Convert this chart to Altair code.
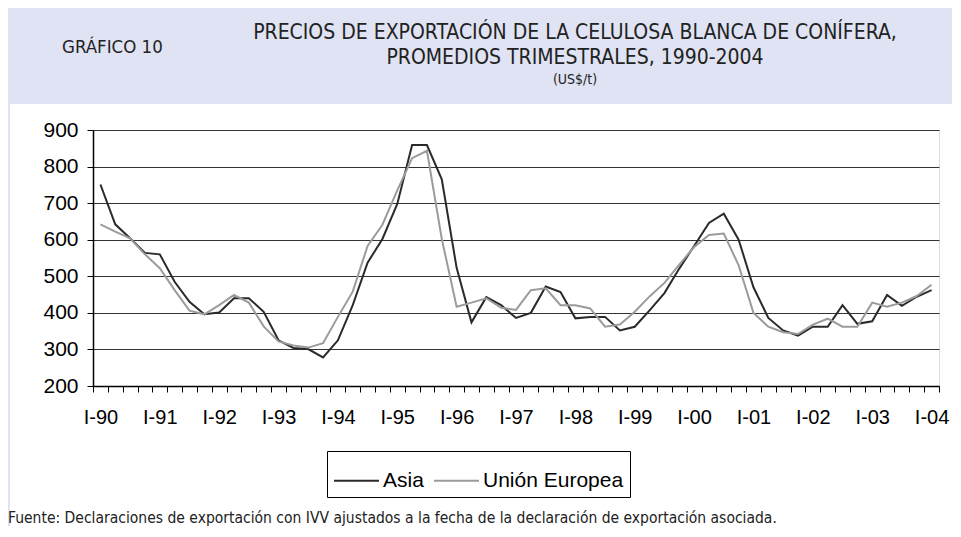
import altair as alt
import pandas as pd

years = ["90", "91", "92", "93", "94", "95", "96", "97", "98", "99", "00", "01", "02", "03", "04"]
roman = ["I", "II", "III", "IV"]
quarters = [f"{r}-{y}" for y in years for r in roman][:57]
tick_labels = [f"I-{y}" for y in years]

asia = [751, 642, 604, 564, 560, 485, 430, 396, 401, 440, 440, 403, 325, 304, 301,
        278, 325, 421, 537, 602, 698, 859, 859, 765, 523, 374, 443, 421, 386,
        400, 472, 457, 385, 389, 389, 352, 362, 407, 454, 521, 583, 646, 671,
        600, 470, 386, 352, 338, 362, 362, 421, 370, 377, 449, 419, 444, 462]
ue = [642, 622, 604, 560, 522, 462, 406, 396, 421, 449, 428, 363, 322, 311, 305,
      317, 389, 458, 583, 641, 735, 823, 843, 602, 417, 428, 440, 414, 408,
      462, 467, 421, 421, 412, 362, 368, 403, 445, 482, 532, 580, 613, 617,
      530, 400, 362, 347, 342, 368, 384, 362, 362, 428, 417, 428, 446, 477]
series = ["Asia", "Unión Europea"]
colors = ["#2a2a2a", "#9b9b9b"]

header = ["GRÁFICO 10"]
title_lines = ["PRECIOS DE EXPORTACIÓN DE LA CELULOSA BLANCA DE CONÍFERA,",
               "PROMEDIOS TRIMESTRALES, 1990-2004"]
unit_line = ["(US$/t)"]
footer = ["Fuente: Declaraciones de exportación con IVV ajustados a la fecha de la declaración de exportación asociada."]

rows = []
for i, q in enumerate(quarters):
    rows.append({"trimestre": q, "pos": i + 0.5, "serie": series[0], "precio": asia[i]})
    rows.append({"trimestre": q, "pos": i + 0.5, "serie": series[1], "precio": ue[i]})
df = pd.DataFrame(rows)

n = len(quarters)
W, H = 846, 256
PL, PT = 85, 122
narrow = "DejaVu Sans Condensed, Liberation Sans Narrow, sans-serif"

label_arr = "[" + ",".join(f"'{t}'" for t in tick_labels) + "]"
label_expr = f"(datum.value % 4 === 0 && datum.value < {n}) ? {label_arr}[datum.value / 4] : ''"

band = alt.Chart(pd.DataFrame({"a": [0]})).mark_rect(color="#dfe3f3").encode(
    x=alt.value(-PL), x2=alt.value(W + 20), y=alt.value(-PT), y2=alt.value(-26)
)
stripe = alt.Chart(pd.DataFrame({"a": [0]})).mark_rect(color="#dfe3f3").encode(
    x=alt.value(-PL), x2=alt.value(-PL + 2), y=alt.value(-30), y2=alt.value(H + 140)
)
head = alt.Chart(pd.DataFrame({"t": header})).mark_text(
    font=narrow, fontSize=18.5, align="left", baseline="middle", color="#222222"
).encode(x=alt.value(-31), y=alt.value(-83), text="t:N")
title1 = alt.Chart(pd.DataFrame({"t": title_lines[:1]})).mark_text(
    font=narrow, fontSize=21, align="center", baseline="middle", color="#222222"
).encode(x=alt.value(482), y=alt.value(-97), text="t:N")
title2 = alt.Chart(pd.DataFrame({"t": title_lines[1:]})).mark_text(
    font=narrow, fontSize=21, align="center", baseline="middle", color="#222222"
).encode(x=alt.value(482), y=alt.value(-72), text="t:N")
unit = alt.Chart(pd.DataFrame({"t": unit_line})).mark_text(
    font=narrow, fontSize=14, align="center", baseline="middle", color="#222222"
).encode(x=alt.value(482), y=alt.value(-50), text="t:N")
foot = alt.Chart(pd.DataFrame({"t": footer})).mark_text(
    font=narrow, fontSize=15.5, align="left", baseline="middle", color="#222222"
).encode(x=alt.value(-PL), y=alt.value(388), text="t:N")

lines = alt.Chart(df).mark_line(strokeWidth=2).encode(
    x=alt.X("pos:Q", title=None,
            scale=alt.Scale(domain=[0, n], nice=False, zero=False),
            axis=alt.Axis(values=list(range(n + 1)), labelExpr=label_expr,
                          labelOffset=W / n / 2, labelFlush=False, labelOverlap=False,
                          labelBound=False, grid=False, tickSize=6, tickColor="black",
                          domainColor="black", domainWidth=1.5, labelPadding=15,
                          labelFontSize=20, labelFont="Liberation Sans", labelColor="black")),
    y=alt.Y("precio:Q", title=None,
            scale=alt.Scale(domain=[200, 900], nice=False, zero=False),
            axis=alt.Axis(values=list(range(200, 901, 100)), grid=True, gridColor="#333333",
                          gridWidth=1, tickSize=6, tickColor="black", domainColor="black",
                          domainWidth=1.5, labelPadding=9, labelFontSize=21,
                          labelFont="Liberation Sans", labelColor="black")),
    color=alt.Color("serie:N", scale=alt.Scale(domain=series, range=colors),
                    legend=alt.Legend(title=None, orient="none", legendX=234, legendY=321,
                                      direction="horizontal", symbolType="stroke",
                                      symbolSize=2025, symbolStrokeWidth=2,
                                      labelFontSize=21, labelFont="Liberation Sans",
                                      labelColor="black", strokeColor="black",
                                      fillColor="white", padding=6, columnPadding=6,
                                      labelOffset=3)),
    detail=alt.Detail("serie:N"),
)

chart = alt.layer(band, stripe, head, title1, title2, unit, lines, foot).properties(
    width=W, height=H,
    padding={"left": PL, "top": PT, "right": 13, "bottom": 140},
    autosize=alt.AutoSizeParams(type="none"),
).configure_view(stroke="#a6a6a6", strokeWidth=2).configure(background="white")

chart.save("out.html", embed_options={"renderer": "svg", "actions": False})
